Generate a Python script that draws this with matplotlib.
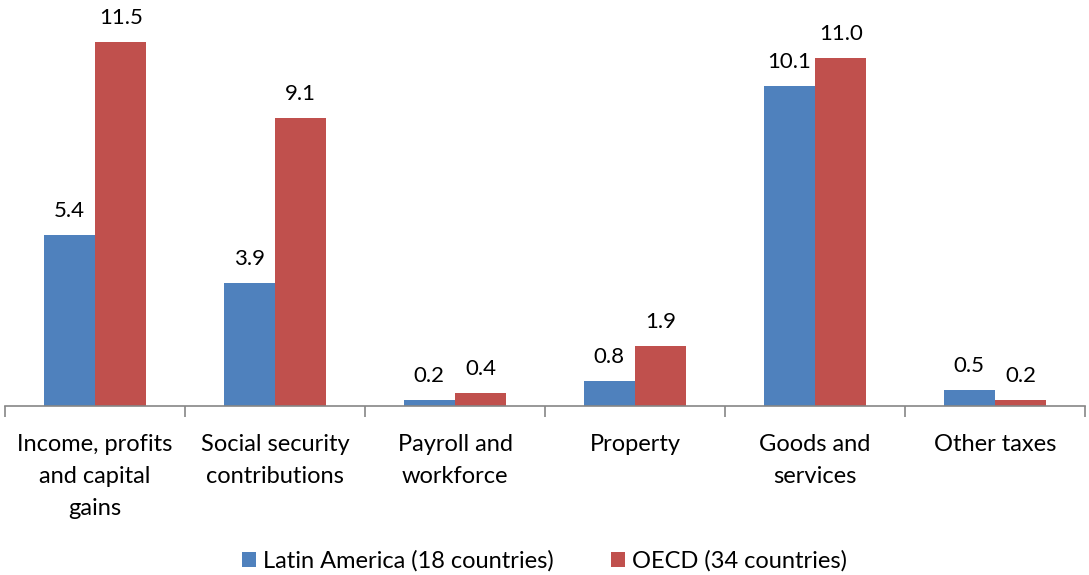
import matplotlib.pyplot as plt
import numpy as np

plt.rcParams['font.family'] = ['Lato', 'DejaVu Sans']

categories = ['Income, profits\nand capital\ngains', 'Social security\ncontributions',
              'Payroll and\nworkforce', 'Property', 'Goods and\nservices', 'Other taxes']
latam = [5.4, 3.9, 0.2, 0.8, 10.1, 0.5]
oecd = [11.5, 9.1, 0.4, 1.9, 11.0, 0.2]
series_names = ['Latin America (18 countries)', 'OECD (34 countries)']
colors = ['#4F81BD', '#C0504D']

fig = plt.figure(figsize=(10.89, 5.75), dpi=100)
ax = fig.add_axes([5/1089, 169/575, 1080/1089, 396/575])

x = np.arange(len(categories))
w = 0.285
b1 = ax.bar(x - w/2, latam, w, color=colors[0], label=series_names[0])
b2 = ax.bar(x + w/2, oecd, w, color=colors[1], label=series_names[1])

for bars, vals in [(b1, latam), (b2, oecd)]:
    for r, v in zip(bars, vals):
        ax.annotate(f'{v:.1f}', (r.get_x() + r.get_width()/2, v),
                    xytext=(0, 10), textcoords='offset points',
                    ha='center', va='bottom', fontsize=16, color='black')

ax.set_xlim(-0.5, len(categories) - 0.5)
ax.set_ylim(0, 12.51)

for s in ['top', 'right', 'left']:
    ax.spines[s].set_visible(False)
ax.spines['bottom'].set_color('#868686')
ax.spines['bottom'].set_linewidth(1.2)
ax.set_yticks([])

ax.set_xticks(x)
ax.set_xticklabels(categories, fontsize=17, linespacing=1.65)
ax.tick_params(axis='x', which='major', length=0, pad=20)
ax.set_xticks(np.arange(len(categories) + 1) - 0.5, minor=True)
ax.tick_params(axis='x', which='minor', length=8, width=1.2, color='#868686')

fig.legend(loc='center', bbox_to_anchor=(0.5, 14/575), ncol=2, frameon=False,
           fontsize=17, handlelength=0.6, handleheight=0.6, handletextpad=0.3,
           columnspacing=2.4)

fig.savefig('out.png', dpi=100)
